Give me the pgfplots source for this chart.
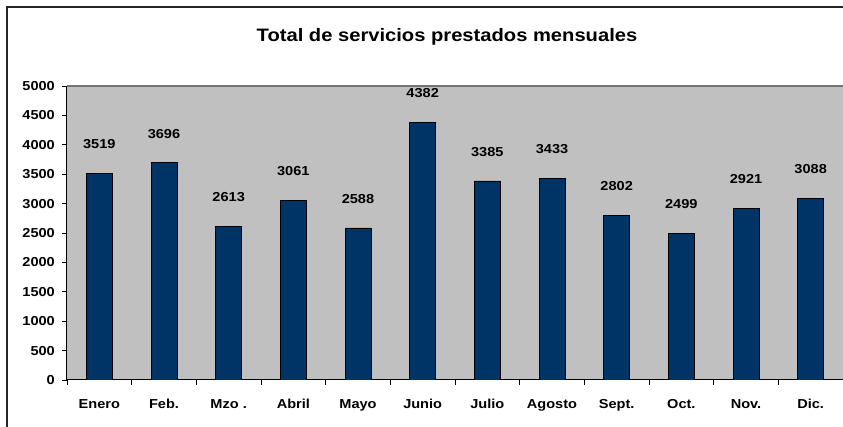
\documentclass[border=0pt]{standalone}
\usepackage{fontspec}
\setmainfont{Liberation Sans}[FakeStretch=1.12]
\usepackage{pgfplots}
\pgfplotsset{compat=1.18}
\definecolor{barblue}{HTML}{003366}
\definecolor{plotgray}{HTML}{C0C0C0}
\begin{document}
\begin{tikzpicture}
\useasboundingbox (0pt,0pt) rectangle (843pt,427pt);
\fill[white] (0pt,0pt) rectangle (843pt,427pt);
\draw[line width=1.5pt, black!85] (7pt,-5pt) -- (7pt,420pt) -- (850pt,420pt);
\node[font=\fontsize{18}{22}\selectfont\bfseries] at (447pt,390pt) {Total de servicios prestados mensuales};
\begin{axis}[
  at={(67pt,47pt)}, anchor=south west,
  scale only axis, width=776pt, height=294pt,
  xmin=-0.5, xmax=11.5, ymin=0, ymax=5000,
  axis background/.style={fill=plotgray},
  axis x line*=bottom, axis y line*=left,
  axis line style={-, black, line width=1pt},
  tick align=outside,
  ytick={0,500,...,5000},
  major tick length=5pt, minor tick length=5pt,
  xtick={0,...,11},
  xticklabels={Enero,Feb.,Mzo .,Abril,Mayo,Junio,Julio,Agosto,Sept.,Oct.,Nov.,Dic.},
  major x tick style={draw=none},
  minor xtick={-0.5,0.5,...,11.5},
  tick style={black, line width=0.8pt},
  /pgf/number format/assume math mode=true,
  /pgf/number format/1000 sep={},
  tick label style={font=\fontsize{13}{15}\selectfont\bfseries},
  yticklabel style={anchor=east, inner sep=0pt, xshift=-7pt},
  xticklabel style={anchor=north, inner sep=0pt, yshift=-14pt},
  ybar, bar width=26pt,
  nodes near coords,
  every node near coord/.append style={font=\fontsize{13}{15}\selectfont\bfseries, anchor=south, inner sep=0pt, yshift=24pt, /pgf/number format/assume math mode=true},
]
\addplot[fill=barblue, draw=black, line width=0.6pt] coordinates {
  (0,3519) (1,3696) (2,2613) (3,3061) (4,2588) (5,4382)
  (6,3385) (7,3433) (8,2802) (9,2499) (10,2921) (11,3088)
};
\draw[black!55, line width=1.3pt] (rel axis cs:0,1) -- (rel axis cs:1,1);
\end{axis}
\end{tikzpicture}
\end{document}
